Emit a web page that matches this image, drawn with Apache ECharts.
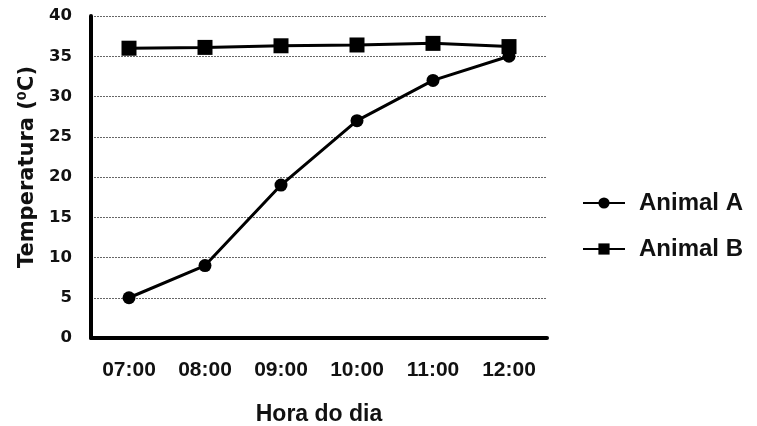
<!DOCTYPE html>
<html>
<head>
<meta charset="utf-8">
<script src="https://cdn.jsdelivr.net/npm/echarts@6/dist/echarts.min.js"></script>
<style>html,body{margin:0;padding:0;background:#fff}#c{width:757px;height:426px}</style>
</head>
<body>
<div id="c"></div>
<script>
const categories = ['07:00','08:00','09:00','10:00','11:00','12:00'];
const animalA = [5, 9, 19, 27, 32, 35];
const animalB = [36, 36.1, 36.3, 36.4, 36.6, 36.2];
const yTicks = [0, 5, 10, 15, 20, 25, 30, 35, 40];

const chart = echarts.init(document.getElementById('c'));
const font = '"Liberation Sans", Arial, sans-serif';
const wideFont = '"DejaVu Sans", sans-serif';
chart.setOption({
  animation: false,
  backgroundColor: '#fff',
  textStyle: { fontFamily: font },
  grid: { left: 91, right: 210, top: 16, bottom: 88, containLabel: false, outerBoundsMode: 'none' },
  legend: {
    orient: 'vertical',
    left: 577,
    top: 186,
    itemGap: 22,
    itemWidth: 42,
    itemHeight: 14,
    textStyle: { fontFamily: font, fontWeight: 'bold', fontSize: 24, color: '#111', padding: [0, 0, 0, 9] },
    data: ['Animal A', 'Animal B']
  },
  xAxis: {
    type: 'category',
    data: categories,
    boundaryGap: true,
    name: 'Hora do dia',
    nameLocation: 'middle',
    nameGap: 65,
    nameTextStyle: { fontFamily: font, fontWeight: 'bold', fontSize: 23, color: '#111' },
    axisLine: { lineStyle: { color: '#000', width: 4 } },
    axisTick: { show: false },
    axisLabel: { fontFamily: font, fontWeight: 'bold', fontSize: 21, color: '#111', margin: 22 }
  },
  yAxis: {
    type: 'value',
    min: yTicks[0],
    max: yTicks[yTicks.length - 1],
    interval: 5,
    name: 'Temperatura (\u2070C)',
    nameLocation: 'middle',
    nameGap: 53,
    nameTextStyle: { fontFamily: wideFont, fontWeight: 'bold', fontSize: 21, color: '#111', padding: [0, 0, 0, 20] },
    axisLine: { show: true, lineStyle: { color: '#000', width: 4 } },
    axisTick: { show: false },
    axisLabel: { fontFamily: wideFont, fontWeight: 'bold', fontSize: 16.5, color: '#111', margin: 19 },
    splitLine: { lineStyle: { color: '#666', type: [2, 1], width: 1 } }
  },
  series: [
    {
      name: 'Animal A', type: 'line', data: animalA,
      symbol: 'circle', symbolSize: 13,
      lineStyle: { color: '#000', width: 3 },
      itemStyle: { color: '#000' }
    },
    {
      name: 'Animal B', type: 'line', data: animalB,
      symbol: 'rect', symbolSize: 15,
      lineStyle: { color: '#000', width: 3 },
      itemStyle: { color: '#000' }
    }
  ]
});
</script>
</body>
</html>
